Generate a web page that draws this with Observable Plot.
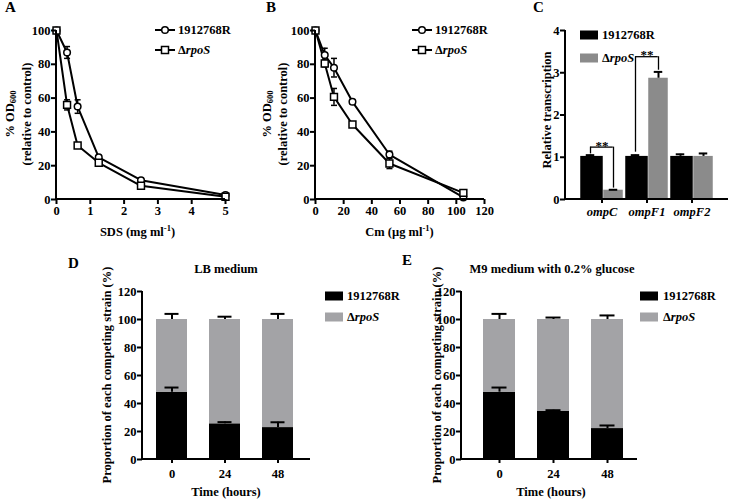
<!DOCTYPE html>
<html><head><meta charset="utf-8">
<script src="https://cdn.jsdelivr.net/npm/d3@7"></script>
<script src="https://cdn.jsdelivr.net/npm/@observablehq/plot@0.6"></script>
<style>
body{margin:0;background:#fff;}
#fig{position:relative;width:742px;height:500px;overflow:hidden;background:#fff;}
#fig svg{position:absolute;overflow:visible;background:transparent;
  font-family:"Liberation Serif","Times New Roman",Times,serif !important;
  font-weight:bold;font-size:12.5px;color:#000;}
#fig svg text, #fig svg tspan{font-family:"Liberation Serif","Times New Roman",Times,serif !important;font-weight:bold;}
</style></head><body><div id="fig"></div>
<script>
// ---------- data ----------
const strains = ["1912768R", "ΔrpoS"];
const odTicks = [0, 20, 40, 60, 80, 100];
// Panel A: SDS
const sdsConc = [0, 0.3125, 0.625, 1.25, 2.5, 5];
const sdsWT = [100, 87, 55, 24.9, 11.4, 2.6];
const sdsWTErr = [1, 3.5, 4, 1, 1, 0.8];
const sdsRpoS = [100, 56, 32, 21.7, 8.1, 1.6];
const sdsRpoSErr = [1, 3, 1, 1, 1, 0.5];
const sdsTicks = [0, 1, 2, 3, 4, 5];
// Panel B: Cm
const cmConc = [0, 6.5625, 13.125, 26.25, 52.5, 105];
const cmWT = [100, 85.5, 78, 57.8, 26.6, 1.2];
const cmWTErr = [1, 4, 5.5, 1.2, 2, 0.8];
const cmRpoS = [100, 80.5, 60.7, 44.4, 21.3, 3.9];
const cmRpoSErr = [1, 2, 5, 1, 3, 1];
const cmTicks = [0, 20, 40, 60, 80, 100, 120];
// Panel C: transcription
const genes = ["ompC", "ompF1", "ompF2"];
const txWT = [1.02, 1.02, 1.02];
const txWTErr = [0.03, 0.03, 0.05];
const txRpoS = [0.22, 2.87, 1.02];
const txRpoSErr = [0.01, 0.15, 0.07];
const txTicks = [0, 1, 2, 3, 4];
const sigGenes = ["ompC", "ompF1"];
const sigBracket = [1.24, 3.38];
const sigLegWT = [1.08, 1.12];
const sigLegRpoS = [0.27, 3.06];
const sigLabels = ["**", "**"];
// Panels D, E: competition
const times = ["0", "24", "48"];
const TOTAL = 100;
const lbWT = [48.1, 25.5, 22.8];
const lbWTErr = [3.3, 1.2, 3.8];
const lbRpoSErr = [4, 2, 4];
const m9WT = [48.1, 34.3, 22.1];
const m9WTErr = [3.3, 0.9, 2.2];
const m9RpoSErr = [4, 1.4, 2.9];
const propTicks = [0, 20, 40, 60, 80, 100, 120];

// ---------- layout ----------
const FONT = "Liberation Serif, Times New Roman, serif";
const STYLE = {background: "transparent", overflow: "visible"};
const intFmt = d3.format("d");
const fig = document.getElementById("fig");
const boxA = {x: 0, y: 0, w: 250, h: 245}, frA = {x0: 56, x1: 225, y0: 30, y1: 199};
const boxB = {x: 250, y: 0, w: 250, h: 245}, frB = {x0: 315, x1: 484, y0: 30, y1: 199};
const boxC = {x: 500, y: 0, w: 242, h: 245}, frC = {x0: 565, x1: 728, y0: 30, y1: 199};
const boxD = {x: 0, y: 245, w: 400, h: 255}, frD = {x0: 142, x1: 310, y0: 291, y1: 459};
const boxE = {x: 400, y: 245, w: 342, h: 255}, frE = {x0: 461, x1: 637, y0: 291, y1: 459};
const GRAY_C = "#8b8b8b", GRAY_DE = "#a3a3a6";

function dims(box, fr) {
  return {width: box.w, height: box.h, marginLeft: fr.x0 - box.x, marginRight: box.x + box.w - fr.x1,
          marginTop: fr.y0 - box.y, marginBottom: box.y + box.h - fr.y1};
}
function place(svg, box) {
  svg.style.left = box.x + "px"; svg.style.top = box.y + "px";
  fig.appendChild(svg); return svg;
}
function layer(svg, box) {
  return d3.select(svg).append("g").attr("transform", `translate(${-box.x},${-box.y})`)
    .attr("font-family", FONT).attr("font-weight", "bold").attr("font-size", 12.5).attr("fill", "#000");
}
function label(g, x, y, parts, {anchor = "start", rotate = false, size = null, baseline = "central"} = {}) {
  const t = g.append("text").attr("text-anchor", anchor).attr("dominant-baseline", baseline);
  if (rotate) t.attr("transform", `translate(${x},${y}) rotate(-90)`); else t.attr("x", x).attr("y", y);
  if (size) t.attr("font-size", size);
  for (const p of parts) {
    const s = typeof p === "string" ? {t: p} : p;
    const ts = t.append("tspan").text(s.t);
    if (s.italic) ts.attr("font-style", "italic");
    if (s.dy) ts.attr("dy", s.dy);
    if (s.size) ts.attr("font-size", s.size);
  }
  return t;
}
const rpoSParts = ["Δ", {t: "rpoS", italic: true}];
function axisLines(g, fr) {
  g.append("line").attr("x1", fr.x0).attr("x2", fr.x0).attr("y1", fr.y0).attr("y2", fr.y1 + 1)
    .attr("stroke", "#000").attr("stroke-width", 2);
  g.append("line").attr("x1", fr.x0 - 1).attr("x2", fr.x1).attr("y1", fr.y1).attr("y2", fr.y1)
    .attr("stroke", "#000").attr("stroke-width", 2);
}
const capSym = {draw(ctx, size) { const w = Math.sqrt(size / Math.PI); ctx.moveTo(-w, 0); ctx.lineTo(w, 0); }};

// ---------- line panels (A, B) ----------
function linePanel(box, fr, conc, wt, wtE, rp, rpE, xDomain, xTicks) {
  const rows = [];
  conc.forEach((c, i) => {
    rows.push({c, v: wt[i], e: wtE[i], s: strains[0]});
    rows.push({c, v: rp[i], e: rpE[i], s: strains[1]});
  });
  const svg = Plot.plot({
    ...dims(box, fr), style: STYLE,
    x: {domain: xDomain, label: null}, y: {domain: [0, 100], label: null},
    marks: [
      Plot.ruleX(rows, {x: "c", y1: d => d.v - d.e, y2: d => d.v + d.e, stroke: "#000", strokeWidth: 1.5}),
      Plot.dot(rows, {x: "c", y: d => d.v + d.e, symbol: capSym, r: 3, fill: "none", stroke: "#000", strokeWidth: 1.5}),
      Plot.dot(rows, {x: "c", y: d => d.v - d.e, symbol: capSym, r: 3, fill: "none", stroke: "#000", strokeWidth: 1.5}),
      Plot.line(rows, {x: "c", y: "v", z: "s", stroke: "#000", strokeWidth: 2}),
      Plot.dot(rows.filter(d => d.s === strains[0]), {x: "c", y: "v", symbol: "circle", r: 3.3, fill: "#fff", stroke: "#000", strokeWidth: 1.5}),
      Plot.dot(rows.filter(d => d.s === strains[1]), {x: "c", y: "v", symbol: "square", r: 3.9, fill: "#fff", stroke: "#000", strokeWidth: 1.5}),
      Plot.axisX({ticks: xTicks, tickFormat: intFmt, tickSize: 5, tickPadding: 2, strokeWidth: 2, label: null}),
      Plot.axisY({ticks: odTicks, tickFormat: intFmt, tickSize: 5, tickPadding: 1, strokeWidth: 2, label: null})
    ]
  });
  return place(svg, box);
}
function lineLegend(g, x, yA, yB) {
  [[yA, "circle"], [yB, "square"]].forEach(([y, sym], i) => {
    g.append("line").attr("x1", x - 10).attr("x2", x + 10).attr("y1", y).attr("y2", y).attr("stroke", "#000").attr("stroke-width", 2);
    if (sym === "circle") g.append("circle").attr("cx", x).attr("cy", y).attr("r", 3.3).attr("fill", "#fff").attr("stroke", "#000").attr("stroke-width", 1.5);
    else g.append("rect").attr("x", x - 3.5).attr("y", y - 3.5).attr("width", 7).attr("height", 7).attr("fill", "#fff").attr("stroke", "#000").attr("stroke-width", 1.5);
    label(g, x + 13, y, i ? rpoSParts : [strains[0]]);
  });
}
function swatchLegend(g, x, yA, yB, tx, colors) {
  [yA, yB].forEach((y, i) => {
    g.append("rect").attr("x", x).attr("y", y - 4.5).attr("width", 18).attr("height", 9).attr("fill", colors[i]);
    label(g, tx, y, i ? rpoSParts : [strains[0]]);
  });
}

// Panel A
{
  const svg = linePanel(boxA, frA, sdsConc, sdsWT, sdsWTErr, sdsRpoS, sdsRpoSErr, [0, 5], sdsTicks);
  const g = layer(svg, boxA);
  axisLines(g, frA);
  label(g, 5, 12, ["A"], {size: 15, baseline: "auto"});
  label(g, 10, 114, ["% OD", {t: "600", dy: 3, size: 8.5}], {anchor: "middle", rotate: true});
  label(g, 27, 114, ["(relative to control)"], {anchor: "middle", rotate: true});
  label(g, (frA.x0 + frA.x1) / 2 - 3, 236, ["SDS (mg ml", {t: "-1", dy: -5, size: 8.5}, {t: ")", dy: 5}], {anchor: "middle", baseline: "auto"});
  lineLegend(g, 165, 30, 50);
}
// Panel B
{
  const svg = linePanel(boxB, frB, cmConc, cmWT, cmWTErr, cmRpoS, cmRpoSErr, [0, 120], cmTicks);
  const g = layer(svg, boxB);
  axisLines(g, frB);
  label(g, 266, 12, ["B"], {size: 15, baseline: "auto"});
  label(g, 267, 114, ["% OD", {t: "600", dy: 3, size: 8.5}], {anchor: "middle", rotate: true});
  label(g, 283, 114, ["(relative to control)"], {anchor: "middle", rotate: true});
  label(g, (frB.x0 + frB.x1) / 2, 236, ["Cm (µg ml", {t: "-1", dy: -5, size: 8.5}, {t: ")", dy: 5}], {anchor: "middle", baseline: "auto"});
  lineLegend(g, 422, 30, 50);
}
// Panel C
{
  const cRows = genes.map((g, i) => ({g, wt: txWT[i], wtE: txWTErr[i], rp: txRpoS[i], rpE: txRpoSErr[i]}));
  const sigRows = sigGenes.map((g, i) => ({g, b: sigBracket[i], l: sigLegWT[i], r: sigLegRpoS[i], t: sigLabels[i]}));
  const svg = Plot.plot({
    ...dims(boxC, frC), style: STYLE,
    x: {domain: genes, paddingInner: 0, paddingOuter: 0.29, label: null},
    y: {domain: [0, 4], label: null},
    marks: [
      Plot.barY(cRows, {x: "g", y: "wt", fill: "#000", insetLeft: 1.25, insetRight: 21.25}),
      Plot.barY(cRows, {x: "g", y: "rp", fill: GRAY_C, insetLeft: 24.25, insetRight: 1.25}),
      Plot.ruleX(cRows, {x: "g", y1: "wt", y2: d => d.wt + d.wtE, dx: -11.5, stroke: "#000", strokeWidth: 2}),
      Plot.tickY(cRows, {x: "g", y: d => d.wt + d.wtE, insetLeft: 6.75, insetRight: 29.75, stroke: "#000", strokeWidth: 2}),
      Plot.ruleX(cRows, {x: "g", y1: "rp", y2: d => d.rp + d.rpE, dx: 11.5, stroke: "#000", strokeWidth: 2}),
      Plot.tickY(cRows, {x: "g", y: d => d.rp + d.rpE, insetLeft: 29.75, insetRight: 6.75, stroke: "#000", strokeWidth: 2}),
      Plot.tickY(sigRows, {x: "g", y: "b", insetLeft: 11.25, insetRight: 11.25, stroke: "#000", strokeWidth: 1.3}),
      Plot.ruleX(sigRows, {x: "g", y1: "l", y2: "b", dx: -11.5, stroke: "#000", strokeWidth: 1.3}),
      Plot.ruleX(sigRows, {x: "g", y1: "r", y2: "b", dx: 11.5, stroke: "#000", strokeWidth: 1.3}),
      Plot.text(sigRows, {x: "g", y: "b", text: "t", lineAnchor: "middle", dy: -1.5, fontSize: 13}),
      Plot.axisX({tickSize: 4, tickPadding: 4, strokeWidth: 2, fontStyle: "italic", label: null}),
      Plot.axisY({ticks: txTicks, tickFormat: intFmt, tickSize: 5, tickPadding: 1, strokeWidth: 2, label: null})
    ]
  });
  place(svg, boxC);
  const g = layer(svg, boxC);
  axisLines(g, frC);
  label(g, 533, 12, ["C"], {size: 15, baseline: "auto"});
  label(g, 547, 110, ["Relative transcription"], {anchor: "middle", rotate: true});
  swatchLegend(g, 580, 35, 58, 602, ["#000", GRAY_C]);
}
// Panels D and E
function stackPanel(box, fr, wt, wtE, rpE, pad) {
  const rows = times.flatMap((t, i) => [{t, s: strains[0], v: wt[i]}, {t, s: strains[1], v: TOTAL - wt[i]}]);
  const err = times.map((t, i) => ({t, a: wt[i], ae: wtE[i], be: rpE[i]}));
  const svg = Plot.plot({
    ...dims(box, fr), style: STYLE,
    x: {domain: times, paddingInner: pad.pi, paddingOuter: pad.po, align: pad.al, label: null},
    y: {domain: [0, 120], label: null},
    color: {domain: strains, range: ["#000", GRAY_DE]},
    marks: [
      Plot.barY(rows, {x: "t", y: "v", fill: "s"}),
      Plot.ruleX(err, {x: "t", y1: "a", y2: d => d.a + d.ae, stroke: "#000", strokeWidth: 2}),
      Plot.tickY(err, {x: "t", y: d => d.a + d.ae, inset: 8.5, stroke: "#000", strokeWidth: 2}),
      Plot.ruleX(err, {x: "t", y1: d => TOTAL, y2: d => TOTAL + d.be, stroke: "#000", strokeWidth: 2}),
      Plot.tickY(err, {x: "t", y: d => TOTAL + d.be, inset: 8.5, stroke: "#000", strokeWidth: 2}),
      Plot.axisX({tickSize: 4, tickPadding: 6, strokeWidth: 2, label: null}),
      Plot.axisY({ticks: propTicks, tickFormat: intFmt, tickSize: 5, tickPadding: 1, strokeWidth: 2, label: null})
    ]
  });
  return place(svg, box);
}
{
  const svg = stackPanel(boxD, frD, lbWT, lbWTErr, lbRpoSErr, {pi: 0.407, po: 0.26, al: 0.46});
  const g = layer(svg, boxD);
  axisLines(g, frD);
  label(g, 68, 268, ["D"], {size: 15, baseline: "auto"});
  label(g, 226, 273, ["LB medium"], {anchor: "middle", baseline: "auto"});
  label(g, 107, 375, ["Proportion of each competing strain (%)"], {anchor: "middle", rotate: true});
  label(g, 226, 496, ["Time (hours)"], {anchor: "middle", baseline: "auto"});
  swatchLegend(g, 325, 296, 317, 347, ["#000", GRAY_DE]);
}
{
  const svg = stackPanel(boxE, frE, m9WT, m9WTErr, m9RpoSErr, {pi: 0.413, po: 0.32, al: 0.6});
  const g = layer(svg, boxE);
  axisLines(g, frE);
  label(g, 402, 265, ["E"], {size: 15, baseline: "auto"});
  label(g, 552, 273, ["M9 medium with 0.2% glucose"], {anchor: "middle", baseline: "auto"});
  label(g, 437, 375, ["Proportion of each competing strain (%)"], {anchor: "middle", rotate: true});
  label(g, 551, 496, ["Time (hours)"], {anchor: "middle", baseline: "auto"});
  swatchLegend(g, 640, 296, 317, 663, ["#000", GRAY_DE]);
}
</script></body></html>
